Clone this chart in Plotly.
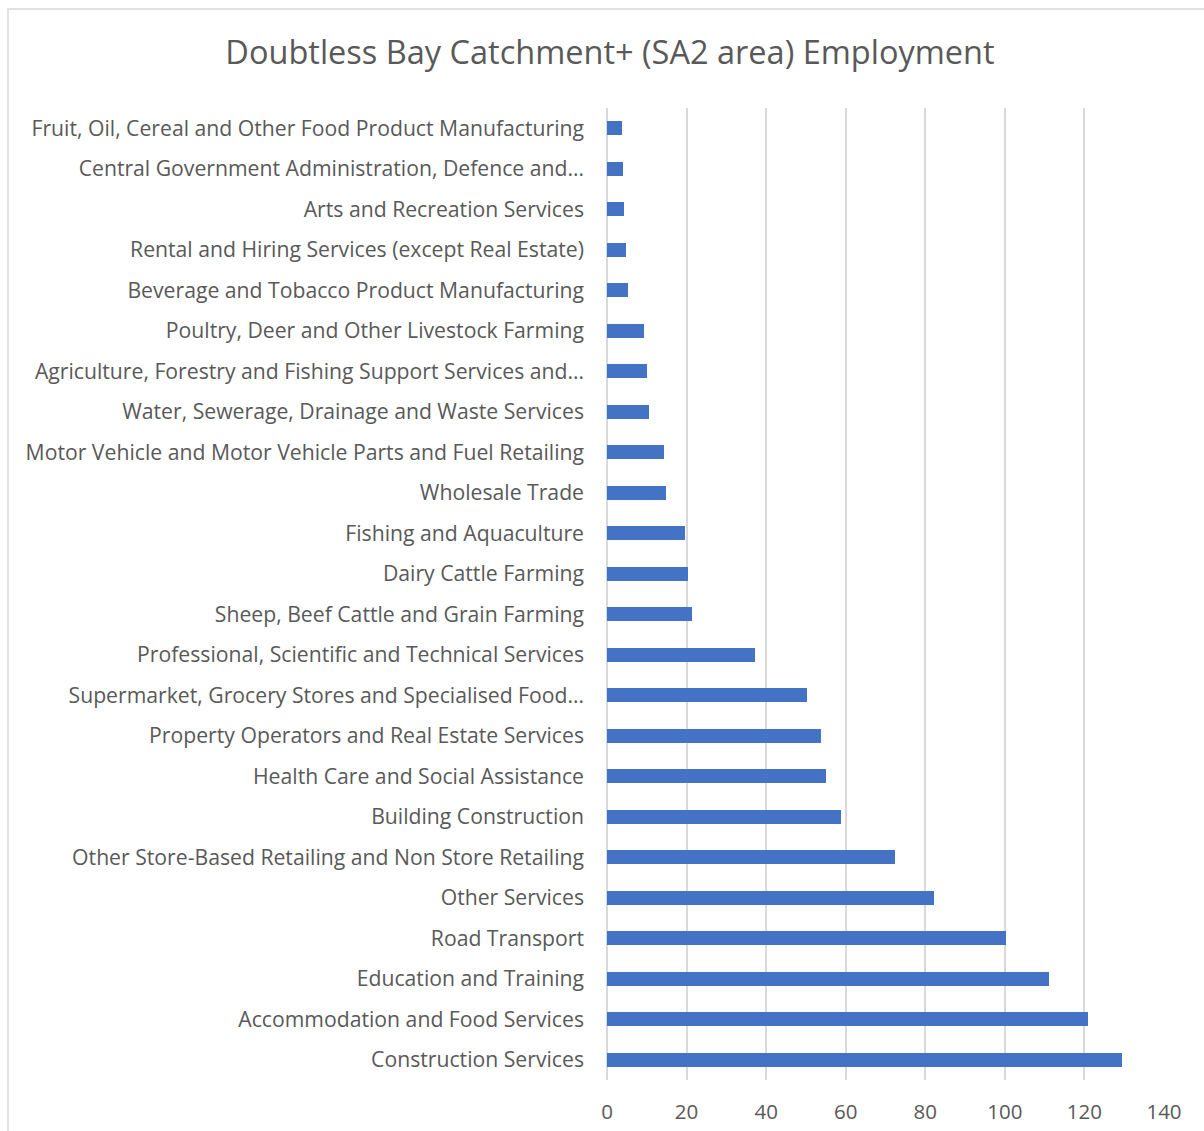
import plotly.graph_objects as go

# Employment by industry, listed top to bottom as shown on the chart
industries = [
    "Fruit, Oil, Cereal and Other Food Product Manufacturing",
    "Central Government Administration, Defence and…",
    "Arts and Recreation Services",
    "Rental and Hiring Services (except Real Estate)",
    "Beverage and Tobacco Product Manufacturing",
    "Poultry, Deer and Other Livestock Farming",
    "Agriculture, Forestry and Fishing Support Services and…",
    "Water, Sewerage, Drainage and Waste Services",
    "Motor Vehicle and Motor Vehicle Parts and Fuel Retailing",
    "Wholesale Trade",
    "Fishing and Aquaculture",
    "Dairy Cattle Farming",
    "Sheep, Beef Cattle and Grain Farming",
    "Professional, Scientific and Technical Services",
    "Supermarket, Grocery Stores and Specialised Food…",
    "Property Operators and Real Estate Services",
    "Health Care and Social Assistance",
    "Building Construction",
    "Other Store-Based Retailing and Non Store Retailing",
    "Other Services",
    "Road Transport",
    "Education and Training",
    "Accommodation and Food Services",
    "Construction Services",
]
employees = [
    3.8, 4.1, 4.2, 4.7, 5.4, 9.2, 10.0, 10.5, 14.4, 14.8, 19.6, 20.3,
    21.3, 37.1, 50.3, 53.7, 55.0, 58.7, 72.4, 82.1, 100.4, 111.2, 121.0, 129.5,
]
x_ticks = [0, 20, 40, 60, 80, 100, 120, 140]

W, H = 1204, 1131
L, R, T, B = 607, 40, 108, 51
TEXT = "#595959"
GRID = "#d9d9d9"
FONT = "Open Sans"

fig = go.Figure(
    go.Bar(
        x=employees,
        y=industries,
        orientation="h",
        width=0.35,
        marker=dict(color="#4472C4", line=dict(width=0)),
        hoverinfo="x+y",
    )
)

pw, ph = W - L - R, H - T - B
# outer chart frame (left and top edges visible)
fig.add_shape(
    type="rect", xref="paper", yref="paper",
    x0=(8 - L) / pw, x1=(W + 5 - L) / pw,
    y0=(H - (H + 5) - B) / ph, y1=(H - 9 - B) / ph,
    line=dict(color=GRID, width=1.5), fillcolor="rgba(0,0,0,0)", layer="below",
)

fig.update_layout(
    width=W, height=H,
    margin=dict(l=L, r=R, t=T, b=B, autoexpand=False),
    paper_bgcolor="white", plot_bgcolor="white",
    showlegend=False,
    title=dict(
        text="Doubtless Bay Catchment+ (SA2 area) Employment",
        x=610 / W, xanchor="center", y=1 - 53 / H, yanchor="middle",
        font=dict(family=FONT, size=32.5, color=TEXT),
    ),
    font=dict(family=FONT, color=TEXT),
    bargap=0,
)
fig.update_xaxes(
    range=[0, 140], tickvals=x_ticks, ticktext=[str(v) for v in x_ticks],
    showgrid=True, gridcolor=GRID, gridwidth=2,
    zeroline=True, zerolinecolor=GRID, zerolinewidth=2,
    showline=False, ticks="",
    tickfont=dict(family=FONT, size=20.5, color=TEXT),
    ticklabelstandoff=17, automargin=False, fixedrange=True,
)
fig.update_yaxes(
    categoryorder="array", categoryarray=industries,
    autorange="reversed",
    showgrid=False, zeroline=False, showline=False, ticks="",
    tickfont=dict(family=FONT, size=21.2, color=TEXT),
    ticklabelstandoff=22, automargin=False, fixedrange=True,
)

fig.write_html("out.html")
